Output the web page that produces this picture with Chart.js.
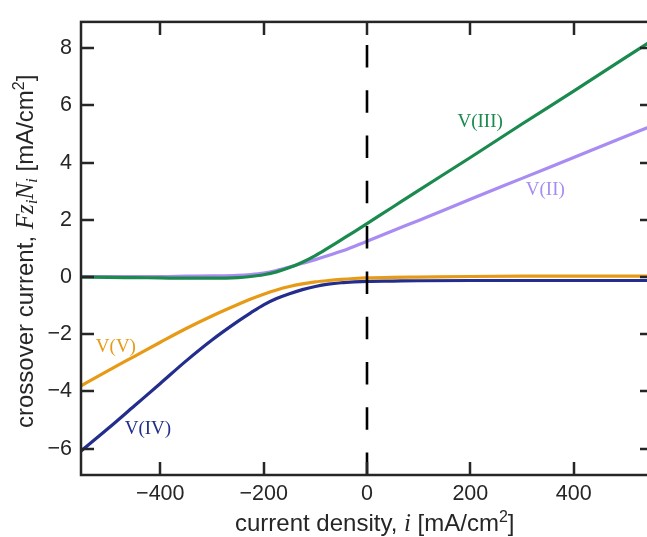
<!DOCTYPE html>
<html>
<head>
<meta charset="utf-8">
<script src="https://cdn.jsdelivr.net/npm/chart.js@4"></script>
<style>
  html, body { margin: 0; padding: 0; background: #fff; overflow: hidden; }
  #wrap { position: relative; width: 660px; height: 537px; }
</style>
</head>
<body>
<div id="wrap"><canvas id="chart"></canvas></div>
<script>
// current density i [mA/cm2]
const currentDensity = [-560, -500, -450, -400, -350, -300, -250, -225, -200, -175, -150, -125, -100, -75, -50, -25, 0, 50, 100, 200, 300, 400, 500, 560];

// crossover current per species [mA/cm2]
const vII  = [0.02, 0.02, 0.02, 0.02, 0.03, 0.04, 0.06, 0.09, 0.14, 0.23, 0.35, 0.48, 0.61, 0.75, 0.90, 1.07, 1.25, 1.62, 1.98, 2.72, 3.45, 4.18, 4.91, 5.35];
const vIII = [0.00, -0.01, -0.02, -0.03, -0.04, -0.04, -0.02, 0.02, 0.08, 0.18, 0.33, 0.52, 0.75, 1.02, 1.30, 1.58, 1.87, 2.45, 3.03, 4.18, 5.35, 6.50, 7.67, 8.37];
const vIV  = [-6.18, -5.28, -4.50, -3.72, -2.93, -2.20, -1.55, -1.25, -0.97, -0.75, -0.58, -0.44, -0.33, -0.25, -0.20, -0.17, -0.15, -0.14, -0.13, -0.12, -0.12, -0.12, -0.12, -0.12];
const vV   = [-3.87, -3.26, -2.77, -2.28, -1.80, -1.36, -0.96, -0.77, -0.60, -0.45, -0.33, -0.24, -0.17, -0.12, -0.08, -0.05, -0.03, -0.01, 0.00, 0.02, 0.03, 0.03, 0.03, 0.03];

const xTicks = [-400, -200, 0, 200, 400];
const yTicks = [-6, -4, -2, 0, 2, 4, 6, 8];

// in-plot labels (data coordinates of the text centre)
const labelNames = ["V(III)", "V(II)", "V(V)", "V(IV)"];
const labelX = [219, 345, -486, -424];
const labelY = [5.42, 3.06, -2.43, -5.31];

const xMin = -553.5, xMax = 553.5;
const yMin = -6.92, yMax = 8.92;

const colIII = "#1a8a4e";
const colII = "#a98cf2";
const colV = "#e79a16";
const colIV = "#232e8c";
const labelColors = [colIII, colII, colV, colIV];
const ink = "#262626";

const pts = (ys) => currentDensity.map((x, i) => ({ x: x, y: ys[i] }));
const fmt = (v) => v < 0 ? "\u2212" + Math.abs(v) : String(v);

const SANS = '"Liberation Sans", Arial, sans-serif';
const SERIF = '"Liberation Serif", "Times New Roman", serif';

function drawRich(ctx, parts) {
  let x = 0;
  for (const p of parts) {
    ctx.font = p.f;
    ctx.fillText(p.t, x, p.dy || 0);
    x += ctx.measureText(p.t).width;
  }
}

const decor = {
  id: "decor",
  afterDatasetsDraw(chart) {
    const ctx = chart.ctx;
    const xs = chart.scales.x, ys = chart.scales.y;
    ctx.save();
    ctx.font = "19px " + SERIF;
    ctx.textAlign = "center";
    ctx.textBaseline = "middle";
    labelNames.forEach((name, i) => {
      ctx.fillStyle = labelColors[i];
      ctx.fillText(name, xs.getPixelForValue(labelX[i]), ys.getPixelForValue(labelY[i]));
    });
    ctx.restore();
  },
  afterDraw(chart) {
    const ctx = chart.ctx;
    const a = chart.chartArea;
    const xs = chart.scales.x, ys = chart.scales.y;
    const tl = 13;
    ctx.save();
    ctx.strokeStyle = ink;
    ctx.lineWidth = 2.5;
    ctx.strokeRect(a.left, a.top, a.right - a.left, a.bottom - a.top);
    ctx.beginPath();
    xTicks.forEach(v => {
      const px = Math.round(xs.getPixelForValue(v));
      ctx.moveTo(px, a.bottom); ctx.lineTo(px, a.bottom - tl);
      ctx.moveTo(px, a.top); ctx.lineTo(px, a.top + tl);
    });
    yTicks.forEach(v => {
      const py = Math.round(ys.getPixelForValue(v));
      ctx.moveTo(a.left, py); ctx.lineTo(a.left + tl, py);
      ctx.moveTo(a.right, py); ctx.lineTo(a.right - tl, py);
    });
    ctx.stroke();

    // axis titles
    ctx.fillStyle = ink;
    ctx.textAlign = "left";
    ctx.textBaseline = "alphabetic";
    const s24 = "24px " + SANS, s16 = "16px " + SANS;
    const i24 = "italic 25px " + SERIF, i16 = "italic 17px " + SERIF;

    ctx.save();
    ctx.translate(235, 531);
    drawRich(ctx, [
      { t: "current density, ", f: s24 },
      { t: "i", f: i24 },
      { t: " [mA/cm", f: s24 },
      { t: "2", f: s16, dy: -9 },
      { t: "]", f: s24 }
    ]);
    ctx.restore();

    ctx.save();
    ctx.translate(33, 428);
    ctx.rotate(-Math.PI / 2);
    drawRich(ctx, [
      { t: "crossover current, ", f: s24 },
      { t: "F", f: i24 },
      { t: "z", f: i24 },
      { t: "i", f: i16, dy: 4 },
      { t: "N", f: i24 },
      { t: "i", f: i16, dy: 4 },
      { t: " [mA/cm", f: s24 },
      { t: "2", f: s16, dy: -9 },
      { t: "]", f: s24 }
    ]);
    ctx.restore();
    ctx.restore();
  }
};

const lineStyle = { borderWidth: 3.2, pointRadius: 0, fill: false, cubicInterpolationMode: "monotone" };

new Chart(document.getElementById("chart"), {
  type: "line",
  data: {
    datasets: [
      {
        label: "i = 0",
        data: [{ x: 0, y: yMax }, { x: 0, y: yMin }],
        borderColor: "#000",
        borderWidth: 2.6,
        borderDash: [22.5, 22.8],
        borderDashOffset: 22.3,
        pointRadius: 0,
        fill: false
      },
      Object.assign({ label: "V(III)", data: pts(vIII), borderColor: colIII }, lineStyle),
      Object.assign({ label: "V(II)", data: pts(vII), borderColor: colII }, lineStyle),
      Object.assign({ label: "V(V)", data: pts(vV), borderColor: colV }, lineStyle),
      Object.assign({ label: "V(IV)", data: pts(vIV), borderColor: colIV }, lineStyle)
    ]
  },
  options: {
    responsive: true,
    maintainAspectRatio: false,
    animation: false,
    devicePixelRatio: 1,
    layout: { padding: { left: 0, top: 13, right: 7, bottom: 0 } },
    plugins: { legend: { display: false }, tooltip: { enabled: false } },
    scales: {
      x: {
        type: "linear",
        min: xMin,
        max: xMax,
        afterBuildTicks: (scale) => { scale.ticks = xTicks.map(v => ({ value: v })); },
        afterFit: (scale) => { scale.height = 62; },
        grid: { display: false, drawTicks: false },
        border: { display: false },
        ticks: { padding: 6, color: ink, font: { family: SANS, size: 21.5 }, callback: fmt, maxRotation: 0 }
      },
      y: {
        type: "linear",
        min: yMin,
        max: yMax,
        afterBuildTicks: (scale) => { scale.ticks = yTicks.map(v => ({ value: v })); },
        afterFit: (scale) => { scale.width = 81; },
        grid: { display: false, drawTicks: false },
        border: { display: false },
        ticks: { padding: 9, color: ink, font: { family: SANS, size: 21.5 }, callback: fmt }
      }
    }
  },
  plugins: [decor]
});
</script>
</body>
</html>
